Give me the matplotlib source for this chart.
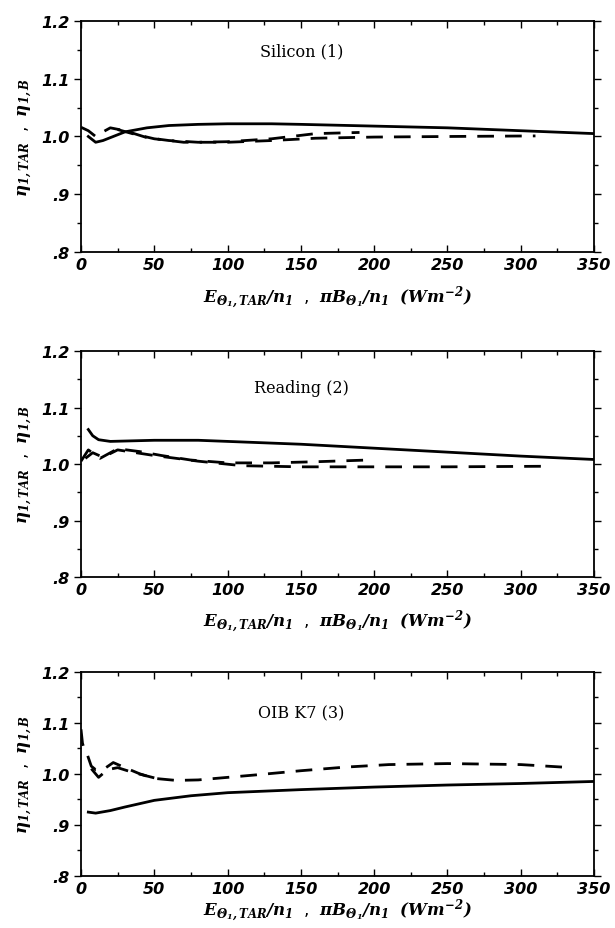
import matplotlib
matplotlib.use('Agg')
import matplotlib.pyplot as plt
from matplotlib.ticker import MultipleLocator, FuncFormatter

# panel titles
names = ['Silicon (1)', 'Reading (2)', 'OIB K7 (3)']

# Silicon (1)
si_x = [5, 10, 15, 20, 30, 45, 60, 80, 100, 130, 150, 200, 250, 300, 350]
si_y = [1.000, 0.990, 0.993, 0.998, 1.008, 1.015, 1.019, 1.021, 1.022, 1.022, 1.021, 1.018, 1.015, 1.010, 1.005]
si_d1x = [0, 5, 10, 15, 20, 30, 45, 60, 80, 100, 130, 160, 190]
si_d1y = [1.016, 1.010, 1.000, 1.008, 1.015, 1.010, 0.998, 0.993, 0.990, 0.991, 0.996, 1.005, 1.007]
si_d2x = [25, 35, 50, 70, 100, 130, 160, 200, 250, 310]
si_d2y = [1.012, 1.005, 0.996, 0.990, 0.990, 0.993, 0.997, 0.999, 1.000, 1.001]

# Reading (2)
rd_x = [5, 8, 12, 20, 35, 50, 80, 100, 150, 200, 250, 300, 350]
rd_y = [1.061, 1.050, 1.043, 1.040, 1.041, 1.042, 1.042, 1.040, 1.035, 1.028, 1.021, 1.014, 1.008]
rd_d1x = [0, 5, 13, 25, 40, 55, 75, 100, 130, 160, 195]
rd_d1y = [1.005, 1.025, 1.010, 1.027, 1.022, 1.015, 1.007, 1.002, 1.002, 1.004, 1.007]
rd_d2x = [3, 8, 15, 25, 50, 80, 110, 150, 200, 250, 315]
rd_d2y = [1.010, 1.020, 1.012, 1.025, 1.015, 1.005, 0.997, 0.995, 0.995, 0.995, 0.996]

# OIB K7 (3)
ok_x = [5, 10, 20, 30, 50, 75, 100, 150, 200, 250, 300, 350]
ok_y = [0.925, 0.923, 0.928, 0.935, 0.948, 0.957, 0.963, 0.969, 0.974, 0.978, 0.981, 0.985]
ok_d1x = [0, 1, 2, 4, 7, 10, 15, 22, 30, 40, 50, 65, 80, 100, 120, 150, 180, 210, 250, 300, 335]
ok_d1y = [1.087, 1.060, 1.050, 1.040, 1.015, 1.008, 1.008, 1.022, 1.012, 1.000, 0.991, 0.987, 0.988, 0.993, 0.998, 1.006, 1.013, 1.018, 1.020, 1.018, 1.012]
ok_d2x = [7, 12, 18, 25, 35, 50]
ok_d2y = [1.010, 0.993, 1.008, 1.012, 1.003, 0.992]

solid = [(si_x, si_y), (rd_x, rd_y), (ok_x, ok_y)]
dashed = [[(si_d1x, si_d1y), (si_d2x, si_d2y)],
          [(rd_d1x, rd_d1y), (rd_d2x, rd_d2y)],
          [(ok_d1x, ok_d1y), (ok_d2x, ok_d2y)]]

plt.rcParams['mathtext.fontset'] = 'custom'
plt.rcParams['mathtext.it'] = 'DejaVu Serif:bold:italic'
plt.rcParams['mathtext.rm'] = 'DejaVu Serif:bold:italic'
plt.rcParams['mathtext.bf'] = 'DejaVu Serif:bold:italic'

fig = plt.figure(figsize=(6.15, 9.29), dpi=100)
boxes = [(0.1317, 0.7277, 0.8343, 0.2486),
         (0.1317, 0.3778, 0.8343, 0.2433),
         (0.1317, 0.0560, 0.8343, 0.2200)]
label_y = [0.87, 0.84, 0.80]
pads = [8, 7, 0]

def ytick(v, pos):
    s = '%.1f' % v
    return s[1:] if s.startswith('0') else s

for i, box in enumerate(boxes):
    ax = fig.add_axes(box)
    ax.plot(*solid[i], color='black', lw=2.0)
    for dx, dy in dashed[i]:
        ax.plot(dx, dy, color='black', lw=2.0, dashes=(6, 4))
    ax.set_xlim(0, 350)
    ax.set_ylim(0.8, 1.2)
    ax.xaxis.set_major_locator(MultipleLocator(50))
    ax.xaxis.set_minor_locator(MultipleLocator(25))
    ax.yaxis.set_major_locator(MultipleLocator(0.1))
    ax.yaxis.set_minor_locator(MultipleLocator(0.05))
    ax.yaxis.set_major_formatter(FuncFormatter(ytick))
    ax.tick_params(axis='x', which='both', direction='in', top=True)
    ax.tick_params(axis='y', which='both', direction='out', right=True)
    ax.tick_params(which='major', length=5, width=1)
    ax.tick_params(which='minor', length=3, width=1)
    for lab in ax.get_xticklabels() + ax.get_yticklabels():
        lab.set_fontsize(11.5)
        lab.set_fontweight('bold')
        lab.set_fontstyle('italic')
    for sp in ax.spines.values():
        sp.set_linewidth(1.3)
    ax.text(0.43, label_y[i], names[i], transform=ax.transAxes, ha='center', va='center',
            fontsize=11.5, family='DejaVu Serif')
    ax.set_xlabel(r'$E_{\Theta_1,TAR}/n_1$  ,  $\pi B_{\Theta_1}/n_1$  $(Wm^{-2})$',
                  fontsize=12, labelpad=pads[i])
    ax.set_ylabel(r'$\eta_{1,TAR}$  ,  $\eta_{1,B}$', fontsize=12, labelpad=4)

fig.savefig('out.png', dpi=100)
